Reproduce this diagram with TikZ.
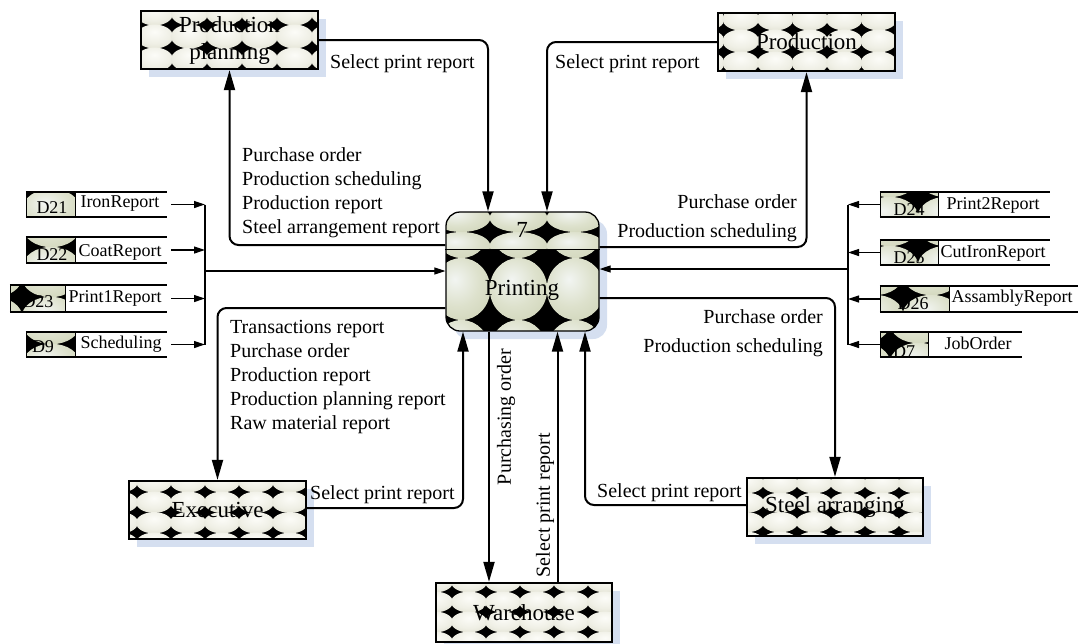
\documentclass[tikz,border=0pt]{standalone}
\usepackage{fontspec}
\setmainfont{Liberation Serif}
\usetikzlibrary{arrows.meta}

\definecolor{shadowblue}{HTML}{D5DFF0}
\definecolor{tAin}{HTML}{FCFCF8}
\definecolor{tAmid}{HTML}{EFEFE5}
\definecolor{tAout}{HTML}{D0D0BC}
\definecolor{tBin}{HTML}{F2F5F2}
\definecolor{tBmid}{HTML}{DDE1CC}
\definecolor{tBout}{HTML}{C4CAA8}
\pgfdeclareradialshading{tileA}{\pgfpoint{0bp}{10bp}}{color(0bp)=(tAin); color(22bp)=(tAmid); color(50bp)=(tAout); color(80bp)=(tAout)}
\pgfdeclareradialshading{tileB}{\pgfpoint{-6bp}{8bp}}{color(0bp)=(tBin); color(20bp)=(tBmid); color(50bp)=(tBout); color(80bp)=(tBout)}
\def\tileshade{tileA}
\def\rxf{0.53}
\def\ryf{0.52}

% ellipse tiling: area #1..#4, tile corner (#5,#6), tile size #7 x #8
\newcommand\tiles[8]{%
  \pgfmathtruncatemacro\ilo{floor((#1-#5)/#7)-1}%
  \pgfmathtruncatemacro\ihi{ceil((#3-#5)/#7)}%
  \pgfmathtruncatemacro\jlo{floor((#2-#6)/#8)-1}%
  \pgfmathtruncatemacro\jhi{ceil((#4-#6)/#8)}%
  \foreach \i in {\ilo,...,\ihi}{\foreach \j in {\jlo,...,\jhi}{%
    \shade[shading=\tileshade] ({#5+(\i+0.5)*#7},{#6+(\j+0.5)*#8})
      ellipse [x radius={\rxf*#7}, y radius={\ryf*#8}];}}}

% patterned rectangle with its drop shadow
\newcommand\patrect[8]{%
  \fill[shadowblue] (#1+8,#2+8) rectangle (#3+8,#4+8);
  \begin{scope}
    \clip (#1,#2) rectangle (#3,#4);
    \fill[black] (#1,#2) rectangle (#3,#4);
    \tiles{#1}{#2}{#3}{#4}{#5}{#6}{#7}{#8}
  \end{scope}}

% data store: #1 name, #2 left, #3 id-cell right, #4 right end, #5 top, #6 bottom, (#7,#8) pattern corner
\newcommand\datastore[8]{%
  \begin{scope}
    \clip (#2,#5) rectangle (#3,#6);
    \fill[black] (#2,#5) rectangle (#3,#6);
    \def\tileshade{tileB}\def\rxf{0.505}\def\ryf{0.505}
    \tiles{#2}{#5}{#3}{#6}{#7}{#8}{57}{40}
  \end{scope}
  \draw[line width=0.8pt] (#2,#5) rectangle (#3,#6);
  \node[inner sep=0pt, minimum width={(#4-#2)*1pt}, minimum height={(#6-#5)*1pt}] (#1) at ({(#2+#4)/2},{(#5+#6)/2}) {};
  \draw[line width=2pt] (#1.north west) -- (#1.north east) (#1.south west) -- (#1.south east);}

\begin{document}
\begin{tikzpicture}[x=1pt,y=-1pt,
  conn/.style={line width=2pt, rounded corners=9pt, -{Triangle[length=20pt,width=11pt]}},
  thinconn/.style={line width=1.2pt, -{Triangle[length=11pt,width=7pt]}},
  procbox/.style={draw, line width=2.3pt, inner sep=0pt, align=center, font=\fontsize{23}{27}\selectfont},
  lbl/.style={inner sep=0pt, font=\fontsize{20}{24}\selectfont},
  sttxt/.style={inner sep=0pt, font=\fontsize{18}{20}\selectfont}]
\useasboundingbox (0,0) rectangle (1081,643);

% ---- processes ----
\patrect{141}{11}{318}{69}{172}{25}{35}{23}
\node[procbox, minimum width=177pt, minimum height=58pt] (pp) at (229.5,40) {Production\\planning};

\patrect{718}{13}{895}{71}{758}{30}{34.5}{22}
\node[procbox, minimum width=177pt, minimum height=58pt] (prod) at (806.5,42) {Production};

\patrect{129}{481}{306}{539}{137}{492}{34}{20.5}
\node[procbox, minimum width=177pt, minimum height=58pt] (exec) at (217.5,510) {Executive};

\patrect{436}{583}{612}{642}{452}{592}{34}{20}
\node[procbox, minimum width=176pt, minimum height=59pt] (ware) at (524,612.5) {Warehouse};

\patrect{747}{478}{923}{536}{763}{493}{34}{19.5}
\node[procbox, minimum width=176pt, minimum height=58pt] (steel) at (835,507) {Steel arranging};

% central process
\fill[shadowblue, rounded corners=14pt] (454,220) rectangle (607,339);
\begin{scope}
  \clip[rounded corners=14pt] (446,212) rectangle (599,331);
  \fill[black] (446,212) rectangle (599,331);
  \def\tileshade{tileB}\def\rxf{0.505}\def\ryf{0.5}
  \begin{scope}\clip (440,205) rectangle (605,249); \tiles{446}{212}{599}{249}{490}{232}{57}{28}\end{scope}
  \begin{scope}\clip (440,249) rectangle (605,335); \tiles{446}{249}{599}{331}{490}{258}{57}{62}\end{scope}
\end{scope}
\node[draw, rounded corners=14pt, line width=1.3pt, inner sep=0pt, minimum width=153pt, minimum height=119pt] (print) at (522.5,271.5) {};
\draw[line width=1pt] ([yshift=22.5pt]print.west) -- ([yshift=22.5pt]print.east);
\node[inner sep=0pt, font=\fontsize{23}{27}\selectfont] (seven) at (522,230) {7};
\node[inner sep=0pt, font=\fontsize{23}{27}\selectfont] (printlbl) at (522,290) {Printing};

% ---- data stores ----
\datastore{s21}{26}{75}{167}{192}{217}{80}{189}
\datastore{s22}{26}{75}{167}{237}{263}{80}{247}
\datastore{s23}{10}{65}{167}{285}{312}{22}{297}
\datastore{s9}{26}{75}{167}{332}{357}{80}{344}
\datastore{s24}{880}{938}{1050}{192}{217}{918}{197}
\datastore{s25}{880}{938}{1050}{240}{265}{918}{246}
\datastore{s26}{880}{949}{1078}{286}{312}{903}{295}
\datastore{s7}{880}{928}{1022}{332}{357}{890}{343}

\node[sttxt] (d21) at (52,208) {D21};
\node[sttxt] (d21n) at (120,204) {IronReport};
\node[sttxt] (d22) at (52,255) {D22};
\node[sttxt] (d22n) at (120,252) {CoatReport};
\node[sttxt] (d23) at (38,302) {D23};
\node[sttxt] (d23n) at (115,298) {Print1Report};
\node[sttxt] (d9) at (43,347) {D9};
\node[sttxt] (d9n) at (121,344) {Scheduling};
\node[sttxt] (d24) at (909,210) {D24};
\node[sttxt] (d24n) at (993,205) {Print2Report};
\node[sttxt] (d25) at (909,258) {D25};
\node[sttxt] (d25n) at (993,253) {CutIronReport};
\node[sttxt] (d26) at (913,304) {D26};
\node[sttxt] (d26n) at (1012,298) {AssamblyReport};
\node[sttxt] (d7) at (904,352) {D7};
\node[sttxt] (d7n) at (978,343) {JobOrder};

% ---- store buses ----
\coordinate (lbus) at (205,271);
\draw[line width=1.2pt] (lbus |- s21.east) -- (lbus |- s9.east);
\foreach \s in {s21,s22,s23,s9} \draw[thinconn] ([xshift=4pt]\s.east) -- (lbus |- \s.east);
\draw[thinconn] (lbus) -- (lbus -| print.west);

\coordinate (rbus) at (848,269);
\draw[line width=1.2pt] (rbus |- s24.west) -- (rbus |- s7.west);
\foreach \s in {s24,s25,s26,s7} \draw[thinconn] (\s.west) -- (rbus |- \s.west);
\draw[thinconn] (rbus) -- (rbus -| print.east);

% ---- flows ----
\draw[conn] (pp.east) -| ([xshift=-34.5pt]print.north);
\draw[conn] ([yshift=26.5pt]print.west) -| (pp.south);
\draw[conn] (prod.west) -| ([xshift=24.5pt]print.north);
\draw[conn] ([yshift=24.5pt]print.east) -| (prod.south);
\draw[conn] ([yshift=-26.5pt]print.east) -| (steel.north);
\draw[conn] ([yshift=2pt]steel.west) -| ([xshift=62.5pt]print.south);
\draw[conn] ([yshift=2pt]exec.east) -| ([xshift=-59.5pt]print.south);
\draw[conn] ([yshift=-36.5pt]print.west) -| (exec.north);
\coordinate (pw) at ([xshift=-33.5pt]print.south);
\draw[conn] (pw) -- (pw |- ware.north);
\coordinate (wp) at ([xshift=35pt]print.south);
\draw[conn] (wp |- ware.north) -- (wp);

% ---- flow labels ----
\node[lbl, anchor=base west] (sl1) at (330,68) {Select print report};
\node[lbl, anchor=base west] (sl2) at (555,68) {Select print report};
\node[lbl, anchor=base west] (sl3) at (310,499) {Select print report};
\node[lbl, anchor=base west] (sl4) at (597,497) {Select print report};
\node[lbl, rotate=90] (sl5) at (545,505) {Select print report};
\node[lbl, rotate=90] (po) at (506,417) {Purchasing order};

\foreach \t [count=\k, evaluate=\k as \yy using 137+24*\k] in
  {Purchase order, Production scheduling, Production report, Steel arrangement report}
  \node[lbl, anchor=base west] (la\k) at (242,\yy) {\t};
\foreach \t [count=\k, evaluate=\k as \yy using 309+24*\k] in
  {Transactions report, Purchase order, Production report, Production planning report, Raw material report}
  \node[lbl, anchor=base west] (lb\k) at (230,\yy) {\t};
\node[lbl, anchor=base east] (ra1) at (797,208) {Purchase order};
\node[lbl, anchor=base east] (ra2) at (797,237) {Production scheduling};
\node[lbl, anchor=base east] (rb1) at (823,323) {Purchase order};
\node[lbl, anchor=base east] (rb2) at (823,352) {Production scheduling};
\end{tikzpicture}
\end{document}
